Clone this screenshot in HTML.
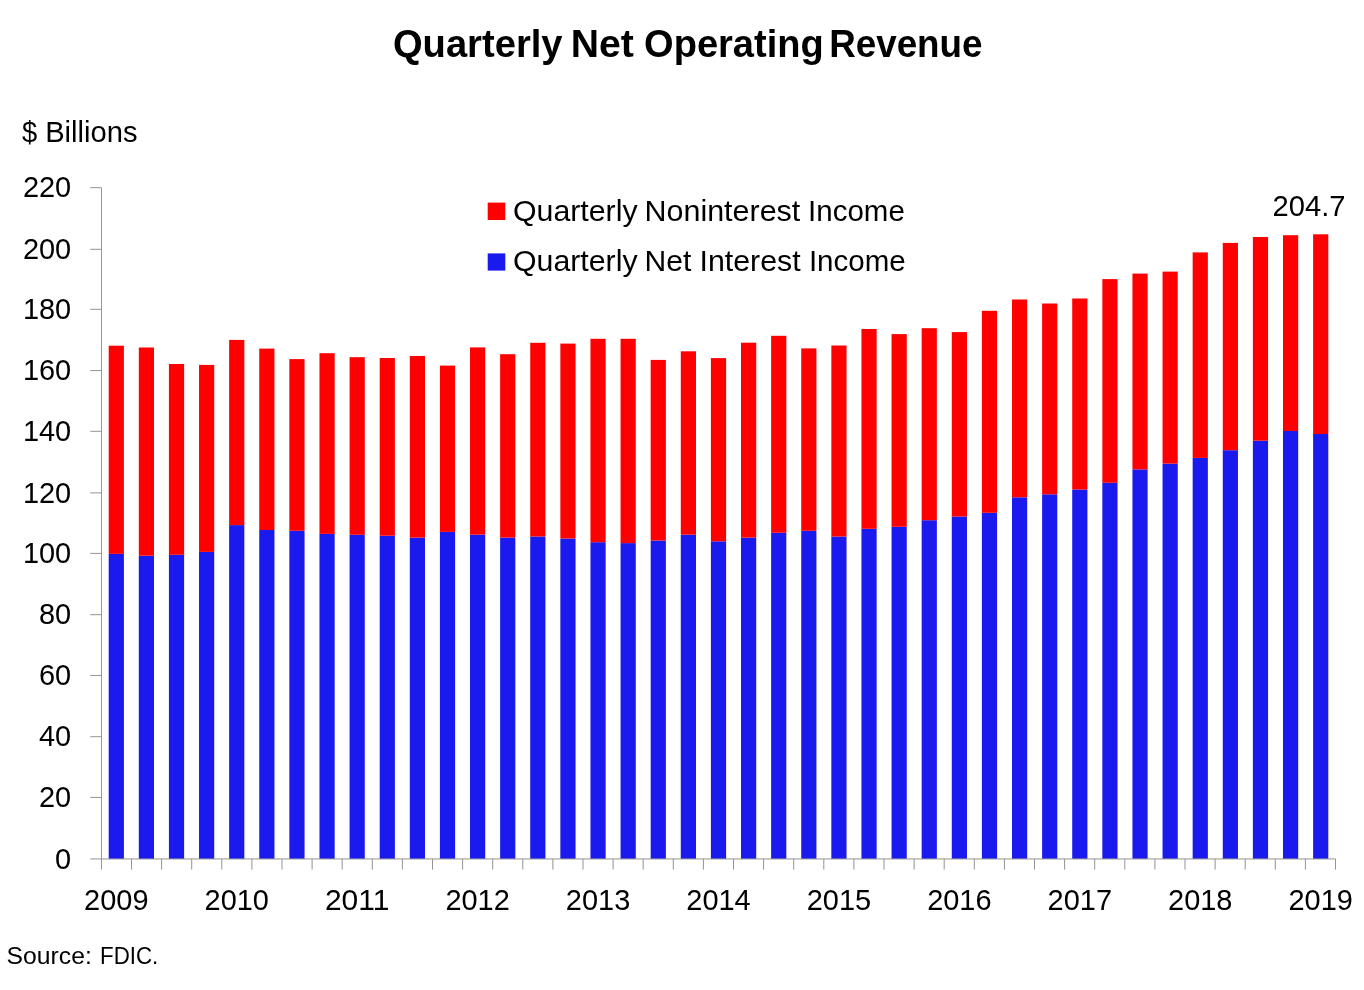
<!DOCTYPE html>
<html><head><meta charset="utf-8"><title>Quarterly Net Operating Revenue</title>
<style>
html,body{margin:0;padding:0;background:#fff;}
body{width:1364px;height:990px;overflow:hidden;}
svg{display:block;will-change:transform;}
text{font-family:'Liberation Sans', Arial, sans-serif;fill:#000;}
</style></head><body>
<svg width="1364" height="990" viewBox="0 0 1364 990">
<rect width="1364" height="990" fill="#fff"/>
<text y="56.9" font-size="38.1" font-weight="bold"><tspan x="392.90" textLength="169.70" lengthAdjust="spacingAndGlyphs">Quarterly</tspan> <tspan x="570.80" textLength="63.10" lengthAdjust="spacingAndGlyphs">Net</tspan> <tspan x="644.10" textLength="179.60" lengthAdjust="spacingAndGlyphs">Operating</tspan> <tspan x="829.20" textLength="153.30" lengthAdjust="spacingAndGlyphs">Revenue</tspan></text>
<text y="142.0" font-size="28.9"><tspan x="21.90" textLength="15.20" lengthAdjust="spacingAndGlyphs">$</tspan> <tspan x="45.20" textLength="92.30" lengthAdjust="spacingAndGlyphs">Billions</tspan></text>
<text y="220.7" font-size="29.4"><tspan x="513.00" textLength="124.60" lengthAdjust="spacingAndGlyphs">Quarterly</tspan> <tspan x="644.50" textLength="155.80" lengthAdjust="spacingAndGlyphs">Noninterest</tspan> <tspan x="808.10" textLength="96.70" lengthAdjust="spacingAndGlyphs">Income</tspan></text>
<text y="270.6" font-size="29.4"><tspan x="513.00" textLength="124.60" lengthAdjust="spacingAndGlyphs">Quarterly</tspan> <tspan x="644.50" textLength="46.80" lengthAdjust="spacingAndGlyphs">Net</tspan> <tspan x="699.50" textLength="101.10" lengthAdjust="spacingAndGlyphs">Interest</tspan> <tspan x="808.90" textLength="96.90" lengthAdjust="spacingAndGlyphs">Income</tspan></text>
<text y="216.1" font-size="30"><tspan x="1272.55" textLength="72.95" lengthAdjust="spacingAndGlyphs">204.7</tspan></text>
<text y="963.9" font-size="24.6"><tspan x="6.60" textLength="85.20" lengthAdjust="spacingAndGlyphs">Source:</tspan> <tspan x="100.10" textLength="58.20" lengthAdjust="spacingAndGlyphs">FDIC.</tspan></text>
<rect x="487.7" y="202.6" width="17.6" height="17.4" fill="#ff0000"/>
<rect x="487.7" y="253.4" width="17.6" height="17.2" fill="#1a1aee"/>
<rect x="108.70" y="553.90" width="15.2" height="305.05" fill="#1a1aee"/>
<rect x="108.70" y="345.70" width="15.2" height="208.20" fill="#ff0000"/>
<rect x="138.81" y="555.70" width="15.2" height="303.25" fill="#1a1aee"/>
<rect x="138.81" y="347.50" width="15.2" height="208.20" fill="#ff0000"/>
<rect x="168.92" y="554.80" width="15.2" height="304.15" fill="#1a1aee"/>
<rect x="168.92" y="364.00" width="15.2" height="190.80" fill="#ff0000"/>
<rect x="199.03" y="551.90" width="15.2" height="307.05" fill="#1a1aee"/>
<rect x="199.03" y="364.90" width="15.2" height="187.00" fill="#ff0000"/>
<rect x="229.14" y="525.10" width="15.2" height="333.85" fill="#1a1aee"/>
<rect x="229.14" y="339.90" width="15.2" height="185.20" fill="#ff0000"/>
<rect x="259.25" y="530.00" width="15.2" height="328.95" fill="#1a1aee"/>
<rect x="259.25" y="348.60" width="15.2" height="181.40" fill="#ff0000"/>
<rect x="289.36" y="530.80" width="15.2" height="328.15" fill="#1a1aee"/>
<rect x="289.36" y="359.10" width="15.2" height="171.70" fill="#ff0000"/>
<rect x="319.47" y="533.90" width="15.2" height="325.05" fill="#1a1aee"/>
<rect x="319.47" y="353.20" width="15.2" height="180.70" fill="#ff0000"/>
<rect x="349.58" y="534.80" width="15.2" height="324.15" fill="#1a1aee"/>
<rect x="349.58" y="357.20" width="15.2" height="177.60" fill="#ff0000"/>
<rect x="379.69" y="535.70" width="15.2" height="323.25" fill="#1a1aee"/>
<rect x="379.69" y="358.00" width="15.2" height="177.70" fill="#ff0000"/>
<rect x="409.80" y="537.60" width="15.2" height="321.35" fill="#1a1aee"/>
<rect x="409.80" y="355.95" width="15.2" height="181.65" fill="#ff0000"/>
<rect x="439.91" y="531.90" width="15.2" height="327.05" fill="#1a1aee"/>
<rect x="439.91" y="365.60" width="15.2" height="166.30" fill="#ff0000"/>
<rect x="470.02" y="534.70" width="15.2" height="324.25" fill="#1a1aee"/>
<rect x="470.02" y="347.40" width="15.2" height="187.30" fill="#ff0000"/>
<rect x="500.13" y="537.60" width="15.2" height="321.35" fill="#1a1aee"/>
<rect x="500.13" y="354.20" width="15.2" height="183.40" fill="#ff0000"/>
<rect x="530.24" y="536.50" width="15.2" height="322.45" fill="#1a1aee"/>
<rect x="530.24" y="342.80" width="15.2" height="193.70" fill="#ff0000"/>
<rect x="560.35" y="538.50" width="15.2" height="320.45" fill="#1a1aee"/>
<rect x="560.35" y="343.60" width="15.2" height="194.90" fill="#ff0000"/>
<rect x="590.46" y="542.20" width="15.2" height="316.75" fill="#1a1aee"/>
<rect x="590.46" y="338.80" width="15.2" height="203.40" fill="#ff0000"/>
<rect x="620.57" y="543.10" width="15.2" height="315.85" fill="#1a1aee"/>
<rect x="620.57" y="338.80" width="15.2" height="204.30" fill="#ff0000"/>
<rect x="650.68" y="540.50" width="15.2" height="318.45" fill="#1a1aee"/>
<rect x="650.68" y="359.90" width="15.2" height="180.60" fill="#ff0000"/>
<rect x="680.79" y="534.70" width="15.2" height="324.25" fill="#1a1aee"/>
<rect x="680.79" y="351.30" width="15.2" height="183.40" fill="#ff0000"/>
<rect x="710.90" y="541.30" width="15.2" height="317.65" fill="#1a1aee"/>
<rect x="710.90" y="358.10" width="15.2" height="183.20" fill="#ff0000"/>
<rect x="741.01" y="537.60" width="15.2" height="321.35" fill="#1a1aee"/>
<rect x="741.01" y="342.70" width="15.2" height="194.90" fill="#ff0000"/>
<rect x="771.12" y="532.80" width="15.2" height="326.15" fill="#1a1aee"/>
<rect x="771.12" y="335.80" width="15.2" height="197.00" fill="#ff0000"/>
<rect x="801.23" y="530.80" width="15.2" height="328.15" fill="#1a1aee"/>
<rect x="801.23" y="348.40" width="15.2" height="182.40" fill="#ff0000"/>
<rect x="831.34" y="536.50" width="15.2" height="322.45" fill="#1a1aee"/>
<rect x="831.34" y="345.50" width="15.2" height="191.00" fill="#ff0000"/>
<rect x="861.45" y="528.80" width="15.2" height="330.15" fill="#1a1aee"/>
<rect x="861.45" y="329.00" width="15.2" height="199.80" fill="#ff0000"/>
<rect x="891.56" y="526.80" width="15.2" height="332.15" fill="#1a1aee"/>
<rect x="891.56" y="334.10" width="15.2" height="192.70" fill="#ff0000"/>
<rect x="921.67" y="520.20" width="15.2" height="338.75" fill="#1a1aee"/>
<rect x="921.67" y="328.20" width="15.2" height="192.00" fill="#ff0000"/>
<rect x="951.78" y="516.50" width="15.2" height="342.45" fill="#1a1aee"/>
<rect x="951.78" y="332.10" width="15.2" height="184.40" fill="#ff0000"/>
<rect x="981.89" y="512.80" width="15.2" height="346.15" fill="#1a1aee"/>
<rect x="981.89" y="310.80" width="15.2" height="202.00" fill="#ff0000"/>
<rect x="1012.00" y="497.30" width="15.2" height="361.65" fill="#1a1aee"/>
<rect x="1012.00" y="299.50" width="15.2" height="197.80" fill="#ff0000"/>
<rect x="1042.11" y="494.30" width="15.2" height="364.65" fill="#1a1aee"/>
<rect x="1042.11" y="303.50" width="15.2" height="190.80" fill="#ff0000"/>
<rect x="1072.22" y="489.50" width="15.2" height="369.45" fill="#1a1aee"/>
<rect x="1072.22" y="298.50" width="15.2" height="191.00" fill="#ff0000"/>
<rect x="1102.33" y="482.80" width="15.2" height="376.15" fill="#1a1aee"/>
<rect x="1102.33" y="279.10" width="15.2" height="203.70" fill="#ff0000"/>
<rect x="1132.44" y="469.40" width="15.2" height="389.55" fill="#1a1aee"/>
<rect x="1132.44" y="273.60" width="15.2" height="195.80" fill="#ff0000"/>
<rect x="1162.55" y="463.60" width="15.2" height="395.35" fill="#1a1aee"/>
<rect x="1162.55" y="271.60" width="15.2" height="192.00" fill="#ff0000"/>
<rect x="1192.66" y="457.90" width="15.2" height="401.05" fill="#1a1aee"/>
<rect x="1192.66" y="252.40" width="15.2" height="205.50" fill="#ff0000"/>
<rect x="1222.77" y="450.20" width="15.2" height="408.75" fill="#1a1aee"/>
<rect x="1222.77" y="242.90" width="15.2" height="207.30" fill="#ff0000"/>
<rect x="1252.88" y="440.70" width="15.2" height="418.25" fill="#1a1aee"/>
<rect x="1252.88" y="237.00" width="15.2" height="203.70" fill="#ff0000"/>
<rect x="1282.99" y="431.00" width="15.2" height="427.95" fill="#1a1aee"/>
<rect x="1282.99" y="235.20" width="15.2" height="195.80" fill="#ff0000"/>
<rect x="1313.10" y="434.00" width="15.2" height="424.95" fill="#1a1aee"/>
<rect x="1313.10" y="234.30" width="15.2" height="199.70" fill="#ff0000"/>
<g stroke="#939393" stroke-width="1"><line x1="101.5" y1="187.7" x2="101.5" y2="869.6" stroke="#999"/><line x1="90.3" y1="858.95" x2="1335.5" y2="858.95"/><line x1="90.3" y1="797.40" x2="101.5" y2="797.40"/><line x1="90.3" y1="736.70" x2="101.5" y2="736.70"/><line x1="90.3" y1="675.45" x2="101.5" y2="675.45"/><line x1="90.3" y1="614.70" x2="101.5" y2="614.70"/><line x1="90.3" y1="553.40" x2="101.5" y2="553.40"/><line x1="90.3" y1="492.90" x2="101.5" y2="492.90"/><line x1="90.3" y1="431.30" x2="101.5" y2="431.30"/><line x1="90.3" y1="370.60" x2="101.5" y2="370.60"/><line x1="90.3" y1="309.30" x2="101.5" y2="309.30"/><line x1="90.3" y1="249.30" x2="101.5" y2="249.30"/><line x1="90.3" y1="187.70" x2="101.5" y2="187.70"/><line x1="131.50" y1="858.95" x2="131.50" y2="869.6"/><line x1="161.60" y1="858.95" x2="161.60" y2="869.6"/><line x1="191.70" y1="858.95" x2="191.70" y2="869.6"/><line x1="221.80" y1="858.95" x2="221.80" y2="869.6"/><line x1="251.90" y1="858.95" x2="251.90" y2="869.6"/><line x1="282.00" y1="858.95" x2="282.00" y2="869.6"/><line x1="312.10" y1="858.95" x2="312.10" y2="869.6"/><line x1="342.20" y1="858.95" x2="342.20" y2="869.6"/><line x1="372.30" y1="858.95" x2="372.30" y2="869.6"/><line x1="402.40" y1="858.95" x2="402.40" y2="869.6"/><line x1="432.50" y1="858.95" x2="432.50" y2="869.6"/><line x1="462.60" y1="858.95" x2="462.60" y2="869.6"/><line x1="492.70" y1="858.95" x2="492.70" y2="869.6"/><line x1="522.80" y1="858.95" x2="522.80" y2="869.6"/><line x1="552.90" y1="858.95" x2="552.90" y2="869.6"/><line x1="583.00" y1="858.95" x2="583.00" y2="869.6"/><line x1="613.10" y1="858.95" x2="613.10" y2="869.6"/><line x1="643.20" y1="858.95" x2="643.20" y2="869.6"/><line x1="673.30" y1="858.95" x2="673.30" y2="869.6"/><line x1="703.40" y1="858.95" x2="703.40" y2="869.6"/><line x1="733.50" y1="858.95" x2="733.50" y2="869.6"/><line x1="763.60" y1="858.95" x2="763.60" y2="869.6"/><line x1="793.70" y1="858.95" x2="793.70" y2="869.6"/><line x1="823.80" y1="858.95" x2="823.80" y2="869.6"/><line x1="853.90" y1="858.95" x2="853.90" y2="869.6"/><line x1="884.00" y1="858.95" x2="884.00" y2="869.6"/><line x1="914.10" y1="858.95" x2="914.10" y2="869.6"/><line x1="944.20" y1="858.95" x2="944.20" y2="869.6"/><line x1="974.30" y1="858.95" x2="974.30" y2="869.6"/><line x1="1004.40" y1="858.95" x2="1004.40" y2="869.6"/><line x1="1034.50" y1="858.95" x2="1034.50" y2="869.6"/><line x1="1064.60" y1="858.95" x2="1064.60" y2="869.6"/><line x1="1094.70" y1="858.95" x2="1094.70" y2="869.6"/><line x1="1124.80" y1="858.95" x2="1124.80" y2="869.6"/><line x1="1154.90" y1="858.95" x2="1154.90" y2="869.6"/><line x1="1185.00" y1="858.95" x2="1185.00" y2="869.6"/><line x1="1215.10" y1="858.95" x2="1215.10" y2="869.6"/><line x1="1245.20" y1="858.95" x2="1245.20" y2="869.6"/><line x1="1275.30" y1="858.95" x2="1275.30" y2="869.6"/><line x1="1305.40" y1="858.95" x2="1305.40" y2="869.6"/><line x1="1335.50" y1="858.95" x2="1335.50" y2="869.6"/></g>
<text x="71.2" y="868.65" text-anchor="end" font-size="30" textLength="16.1" lengthAdjust="spacingAndGlyphs">0</text>
<text x="71.2" y="807.10" text-anchor="end" font-size="30" textLength="32.2" lengthAdjust="spacingAndGlyphs">20</text>
<text x="71.2" y="746.40" text-anchor="end" font-size="30" textLength="32.2" lengthAdjust="spacingAndGlyphs">40</text>
<text x="71.2" y="685.15" text-anchor="end" font-size="30" textLength="32.2" lengthAdjust="spacingAndGlyphs">60</text>
<text x="71.2" y="624.40" text-anchor="end" font-size="30" textLength="32.2" lengthAdjust="spacingAndGlyphs">80</text>
<text x="71.2" y="563.10" text-anchor="end" font-size="30" textLength="48.3" lengthAdjust="spacingAndGlyphs">100</text>
<text x="71.2" y="502.60" text-anchor="end" font-size="30" textLength="48.3" lengthAdjust="spacingAndGlyphs">120</text>
<text x="71.2" y="441.00" text-anchor="end" font-size="30" textLength="48.3" lengthAdjust="spacingAndGlyphs">140</text>
<text x="71.2" y="380.30" text-anchor="end" font-size="30" textLength="48.3" lengthAdjust="spacingAndGlyphs">160</text>
<text x="71.2" y="319.00" text-anchor="end" font-size="30" textLength="48.3" lengthAdjust="spacingAndGlyphs">180</text>
<text x="71.2" y="259.00" text-anchor="end" font-size="30" textLength="48.3" lengthAdjust="spacingAndGlyphs">200</text>
<text x="71.2" y="197.40" text-anchor="end" font-size="30" textLength="48.3" lengthAdjust="spacingAndGlyphs">220</text>
<text x="116.30" y="910.3" text-anchor="middle" font-size="30" textLength="64.4" lengthAdjust="spacingAndGlyphs">2009</text>
<text x="236.74" y="910.3" text-anchor="middle" font-size="30" textLength="64.4" lengthAdjust="spacingAndGlyphs">2010</text>
<text x="357.18" y="910.3" text-anchor="middle" font-size="30" textLength="64.4" lengthAdjust="spacingAndGlyphs">2011</text>
<text x="477.62" y="910.3" text-anchor="middle" font-size="30" textLength="64.4" lengthAdjust="spacingAndGlyphs">2012</text>
<text x="598.06" y="910.3" text-anchor="middle" font-size="30" textLength="64.4" lengthAdjust="spacingAndGlyphs">2013</text>
<text x="718.50" y="910.3" text-anchor="middle" font-size="30" textLength="64.4" lengthAdjust="spacingAndGlyphs">2014</text>
<text x="838.94" y="910.3" text-anchor="middle" font-size="30" textLength="64.4" lengthAdjust="spacingAndGlyphs">2015</text>
<text x="959.38" y="910.3" text-anchor="middle" font-size="30" textLength="64.4" lengthAdjust="spacingAndGlyphs">2016</text>
<text x="1079.82" y="910.3" text-anchor="middle" font-size="30" textLength="64.4" lengthAdjust="spacingAndGlyphs">2017</text>
<text x="1200.26" y="910.3" text-anchor="middle" font-size="30" textLength="64.4" lengthAdjust="spacingAndGlyphs">2018</text>
<text x="1320.70" y="910.3" text-anchor="middle" font-size="30" textLength="64.4" lengthAdjust="spacingAndGlyphs">2019</text>
</svg>
</body></html>
